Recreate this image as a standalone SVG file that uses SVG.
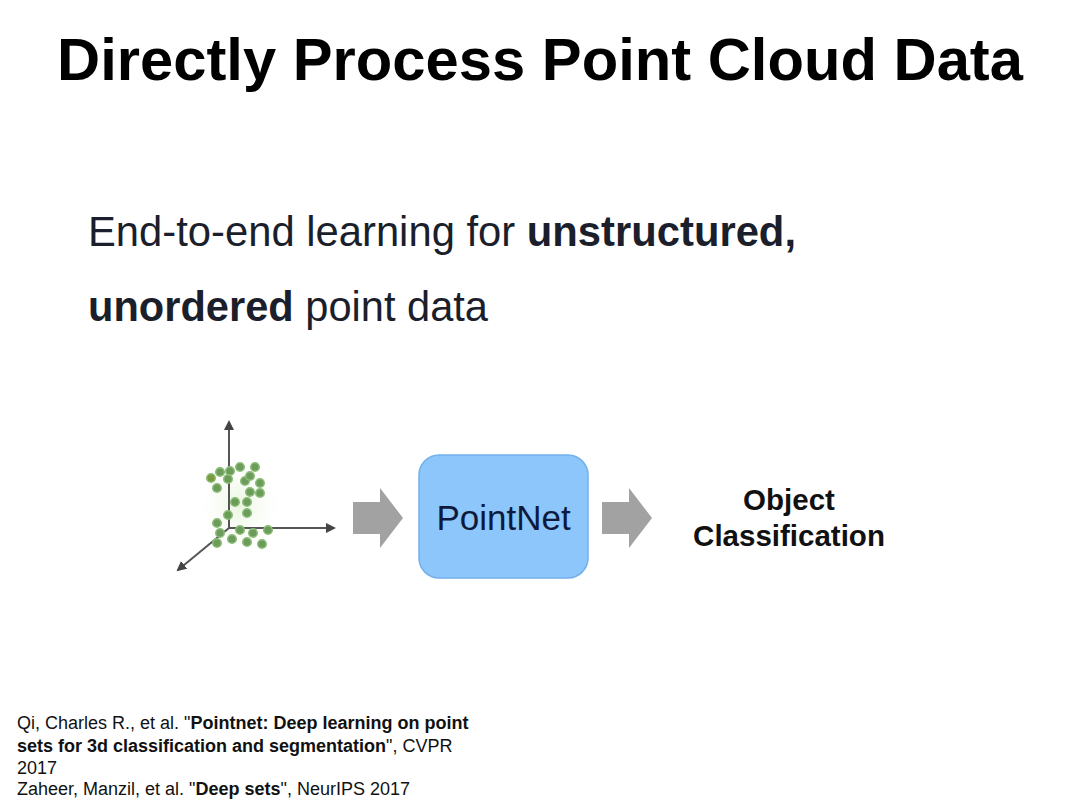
<svg xmlns="http://www.w3.org/2000/svg" width="1080" height="810" viewBox="0 0 1080 810">
<defs>
<style>
.t{font-family:"Liberation Sans",Arial,Helvetica,sans-serif;}
.title{font-size:60px;font-weight:bold;fill:#000;}
.sub{font-size:42px;fill:#1b1e2b;}
.b{font-weight:bold;}
.ref{font-size:18px;fill:#111;}
.lbl{font-size:29.5px;font-weight:bold;fill:#111;text-anchor:middle;}
.pt{fill:#6c9b5c;stroke:#8cbf78;stroke-width:1.5;}
.ax{stroke:#555;stroke-width:2;fill:none;}
.blk{fill:#a2a2a2;}
</style>
<marker id="ah" viewBox="0 0 10 10" refX="8" refY="5" markerWidth="5" markerHeight="5" orient="auto">
<path d="M0,0 L10,5 L0,10 z" fill="#444"/>
</marker>
<radialGradient id="glow">
<stop offset="0" stop-color="#e4f3d6" stop-opacity="0.8"/>
<stop offset="1" stop-color="#ffffff" stop-opacity="0"/>
</radialGradient>
</defs>
<rect width="1080" height="810" fill="#ffffff"/>
<text class="t title" x="57" y="80" textLength="966" lengthAdjust="spacingAndGlyphs">Directly Process Point Cloud Data</text>
<text class="t sub" x="88" y="246" textLength="708" lengthAdjust="spacingAndGlyphs">End-to-end learning for <tspan class="b">unstructured,</tspan></text>
<text class="t sub" x="88" y="321" textLength="400" lengthAdjust="spacingAndGlyphs"><tspan class="b">unordered</tspan> point data</text>

<g id="pointcloud">
<ellipse cx="240" cy="505" rx="45" ry="50" fill="url(#glow)"/>
<g id="axes">
<line class="ax" x1="229" y1="528" x2="229" y2="422" marker-end="url(#ah)"/>
<line class="ax" x1="229" y1="528" x2="334" y2="528" marker-end="url(#ah)"/>
<line class="ax" x1="229" y1="528" x2="178" y2="570" marker-end="url(#ah)"/>
</g>
<g id="points">
<circle class="pt" cx="220" cy="472" r="4.3"/>
<circle class="pt" cx="230" cy="471" r="4.3"/>
<circle class="pt" cx="240" cy="467" r="4.3"/>
<circle class="pt" cx="255" cy="467" r="4.3"/>
<circle class="pt" cx="211" cy="478" r="4.3" style="fill:#7a9a3e"/>
<circle class="pt" cx="228" cy="479" r="4.3"/>
<circle class="pt" cx="245" cy="481" r="4.3"/>
<circle class="pt" cx="250" cy="476" r="4.3"/>
<circle class="pt" cx="260" cy="483" r="4.3"/>
<circle class="pt" cx="217" cy="488" r="4.3"/>
<circle class="pt" cx="250" cy="492" r="4.3"/>
<circle class="pt" cx="260" cy="493" r="4.3"/>
<circle class="pt" cx="235" cy="502" r="4.3"/>
<circle class="pt" cx="247" cy="502" r="4.3"/>
<circle class="pt" cx="247" cy="513" r="4.3"/>
<circle class="pt" cx="228" cy="515" r="4.3"/>
<circle class="pt" cx="217" cy="523" r="4.3"/>
<circle class="pt" cx="220" cy="533" r="4.3"/>
<circle class="pt" cx="240" cy="530" r="4.3"/>
<circle class="pt" cx="253" cy="533" r="4.3"/>
<circle class="pt" cx="268" cy="530" r="4.3"/>
<circle class="pt" cx="232" cy="539" r="4.3"/>
<circle class="pt" cx="217" cy="543" r="4.3"/>
<circle class="pt" cx="247" cy="542" r="4.3"/>
<circle class="pt" cx="262" cy="544" r="4.3"/>
</g>
</g>

<g id="connectors">
<path class="blk" d="M353,502 L380,502 L380,488 L403,518 L380,548 L380,534 L353,534 Z"/>
<path class="blk" d="M602,502 L629,502 L629,488 L652,518 L629,548 L629,534 L602,534 Z"/>
</g>

<g id="pointnet">
<rect x="419" y="455" width="169" height="123" rx="20" ry="20" fill="#8cc6fa" stroke="#73b0ec" stroke-width="1.5"/>
<text class="t" x="503.5" y="530" font-size="35" fill="#0e1a3c" text-anchor="middle">PointNet</text>
</g>

<g id="classification">
<text class="t lbl" x="789" y="510">Object</text>
<text class="t lbl" x="789" y="546">Classification</text>
</g>

<g id="references">
<text class="t ref" x="17" y="729">Qi, Charles R., et al. "<tspan class="b">Pointnet: Deep learning on point</tspan></text>
<text class="t ref" x="17" y="752"><tspan class="b">sets for 3d classification and segmentation</tspan>", CVPR</text>
<text class="t ref" x="17" y="774">2017</text>
<text class="t ref" x="17" y="795">Zaheer, Manzil, et al. "<tspan class="b">Deep sets</tspan>", NeurIPS 2017</text>
</g>
</svg>
